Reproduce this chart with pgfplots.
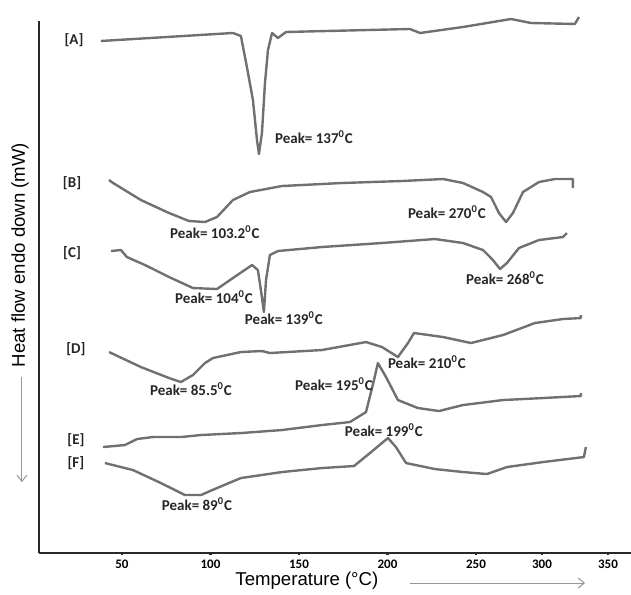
\documentclass[border=0pt]{standalone}
\usepackage{fontspec}
\setmainfont{Liberation Sans}
\newfontfamily\carl{Carlito}
\usepackage{pgfplots}
\pgfplotsset{compat=1.18}
\usetikzlibrary{arrows.meta}
\definecolor{curve}{RGB}{112,112,112}
\definecolor{axisc}{RGB}{40,40,40}
\definecolor{arr}{RGB}{150,150,150}
\tikzset{lbl/.style={font=\carl\bfseries\fontsize{7.5}{9}\selectfont, text=black!85}}
\pgfplotsset{dsc/.style={curve, solid, mark=none, line width=1.2pt, line join=round}}

\begin{document}
\begin{tikzpicture}
\begin{axis}[
  scale only axis, width=296pt, height=266pt,
  xmin=3.1, xmax=337.6, ymin=0, ymax=532,
  axis x line*=bottom, axis y line*=left,
  axis line style={axisc, line width=1pt, -},
  ytick=\empty,
  xtick={50,100,150,200,250,287.3,324.6},
  xticklabels={50,100,150,200,250,300,350},
  /pgf/number format/assume math mode=true,
  tick label style={font=\carl\bfseries\fontsize{6.5}{8}\selectfont, inner sep=0.5pt},
  xticklabel shift=2pt,
  tick align=center, major tick length=1.5pt,
  tick style={axisc, line width=1.2pt},
  clip=false,
]
% [A]
\addplot[dsc] coordinates {(38.1,512)(112.7,520)(117.2,517)(120.6,486)(124.0,453)(126.3,413)(127.4,399)(129.1,420)(130.8,470)(132.5,503)(134.8,520)(138.1,515)(142.7,521)(212.7,524)(218.4,520)(242.7,526)(269.8,534)(281.1,530)(305.9,529)(308.2,536)};
% [B]
\addplot[dsc] coordinates {(42.7,373)(45.0,370)(60.7,353)(76.6,340)(87.9,332)(96.9,331)(103.7,336)(112.7,353)(122.3,361)(140.4,367)(174.3,370)(208.2,372)(231.4,374)(242.7,370)(254.0,361)(258.5,356)(263.0,340)(267.0,331)(270.9,340)(276.6,361)(285.6,371)(294.6,374)(304.8,374)(304.8,365)};
% [C]
\addplot[dsc] coordinates {(43.8,302)(49.4,303)(52.8,296)(63.0,288)(76.6,276)(90.1,265)(103.7,264)(112.7,275)(123.5,288)(126.8,283)(128.5,263)(130.2,241)(131.4,273)(133.6,298)(138.1,302)(163.0,306)(196.9,310)(226.8,314)(242.7,310)(254.0,303)(259.6,293)(263.6,284)(267.5,290)(274.3,305)(285.6,313)(299.2,316)(301.4,320)};
% [D]
\addplot[dsc] coordinates {(42.7,201)(60.7,186)(76.6,175)(83.3,171)(90.1,178)(96.9,190)(101.4,195)(117.2,201)(129.1,202)(133.6,200)(163.0,203)(187.9,211)(196.9,206)(205.9,196)(211.6,210)(215.0,220)(231.4,216)(247.2,210)(265.3,218)(283.3,230)(299.2,234)(309.3,235)(309.3,238)};
% [E]
\addplot[dsc] coordinates {(39.3,106)(51.7,108)(58.5,114)(67.5,116)(83.3,116)(94.6,118)(117.2,120)(140.4,123)(163.0,128)(178.8,131)(187.9,141)(192.4,173)(194.6,190)(199.2,176)(205.9,153)(217.2,145)(229.1,142)(242.7,148)(265.3,153)(287.9,155)(309.3,157)(309.3,160)};
% [F]
\addplot[dsc] coordinates {(40.4,90)(56.2,83)(72.0,70)(85.6,58)(94.6,58)(103.7,65)(117.2,75)(140.4,81)(163.0,85)(181.1,87)(190.1,100)(200.3,115)(204.8,106)(210.5,90)(226.8,84)(242.7,81)(256.2,79)(267.5,86)(287.9,91)(311.0,96)(312.1,106)};

\node[lbl] at (axis cs:22.9,513) {[A]};
\node[lbl] at (axis cs:21.8,370) {[B]};
\node[lbl] at (axis cs:21.8,300) {[C]};
\node[lbl] at (axis cs:24.0,204) {[D]};
\node[lbl] at (axis cs:24.0,113) {[E]};
\node[lbl] at (axis cs:24.0,90) {[F]};

\node[lbl] at (axis cs:158.5,416) {Peak= 137\textsuperscript{0}C};
\node[lbl] at (axis cs:102.5,321) {Peak= 103.2\textsuperscript{0}C};
\node[lbl] at (axis cs:233.6,341) {Peak= 270\textsuperscript{0}C};
\node[lbl] at (axis cs:102.0,256) {Peak= 104\textsuperscript{0}C};
\node[lbl] at (axis cs:141.5,235) {Peak= 139\textsuperscript{0}C};
\node[lbl] at (axis cs:266.4,275) {Peak= 268\textsuperscript{0}C};
\node[lbl] at (axis cs:89.0,164) {Peak= 85.5\textsuperscript{0}C};
\node[lbl] at (axis cs:222.3,191) {Peak= 210\textsuperscript{0}C};
\node[lbl] at (axis cs:169.8,169) {Peak= 195\textsuperscript{0}C};
\node[lbl] at (axis cs:198.0,123) {Peak= 199\textsuperscript{0}C};
\node[lbl] at (axis cs:92.4,49) {Peak= 89\textsuperscript{0}C};

\node[rotate=90, font=\fontsize{9.3}{11}\selectfont] at (axis cs:-7.6,298) {Heat flow endo down (mW)};
\node[font=\fontsize{9.3}{11}\selectfont, inner sep=0.5pt] at (axis cs:154.5,-28) {Temperature (°C)};
\draw[arr, line width=0.5pt, -{Straight Barb[length=3pt,width=5pt]}] (axis cs:-6.5,176) -- (axis cs:-6.5,71);
\draw[arr, line width=0.5pt, -{Straight Barb[length=3pt,width=5pt]}] (axis cs:212.7,-30) -- (axis cs:311.6,-30);

\coordinate (bl) at (axis cs:-18.9,-41);
\coordinate (tr) at (axis cs:337.6,553);
\end{axis}
\pgfresetboundingbox
\path (bl) rectangle (tr);
\end{tikzpicture}
\end{document}
